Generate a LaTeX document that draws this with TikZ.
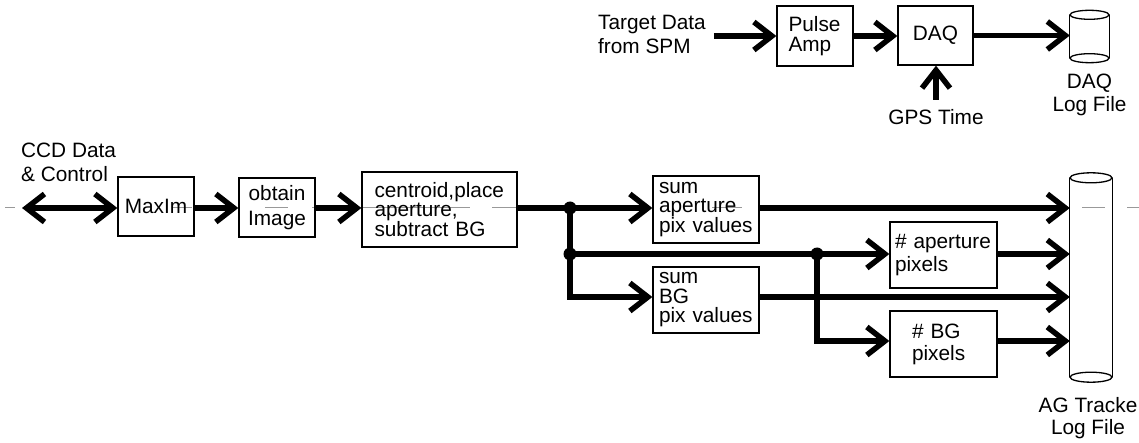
\documentclass[tikz,border=0pt]{standalone}
\usepackage{fontspec}
\setmainfont{Liberation Sans}
\usetikzlibrary{arrows.meta}

\newcommand{\fs}[1]{\fontsize{20.8}{#1}\selectfont}

\begin{document}
\begin{tikzpicture}[x=1pt,y=-1pt,
  every node/.style={font=\fs{24}},
  box/.style={draw,line width=1.3pt,inner sep=0pt,align=left},
  lbl/.style={inner sep=0pt},
  flow/.style={line width=5.5pt,-{Straight Barb[length=18pt,width=28pt]}},
  wire/.style={line width=5.5pt},
  axisline/.style={black!40,line width=1pt},
  drum/.style={line width=1.3pt},
  hub/.style={inner sep=0pt}
]
\useasboundingbox (0,0) rectangle (1139,443);

% thin grey centre line along the main signal row
\draw[axisline] (5,208) -- (15,208) (172,208) -- (192,208) (265,208) -- (288,208)
  (312,208) -- (470,208) (492,208) -- (520,208) (712,208) -- (742,208)
  (1082,208) -- (1105,208) (1127,208) -- (1139,208);

% row coordinates
\coordinate (ax) at (22,208);
\coordinate (j1) at (570,208);
\coordinate (j2) at (570,254);
\coordinate (j3) at (817,254);
\coordinate (r3) at (0,297);
\coordinate (r4) at (0,341);

% ---------- tracker chain ----------
\node[lbl,anchor=west,align=left,font=\fs{24}] (ccd) at (21,162.5) {CCD Data\\\& Control};
\node[box,minimum width=76pt,minimum height=59pt,align=center] (maxim) at (156,206.5) {MaxIm};
\node[box,minimum width=76pt,minimum height=59pt,align=center,font=\fs{25}] (obt) at (277,207.5) {obtain\\Image};
\node[box,minimum width=155pt,minimum height=75pt,text width=130pt,font=\fs{19.8}] (cen) at (439.5,209.5) {centroid,place\\aperture,\\subtract BG};
\node[box,minimum width=106pt,minimum height=67pt,text width=94pt,font=\fs{19}] (sa) at (706,209.5) {sum\\aperture\\pix values};
\node[box,minimum width=106pt,minimum height=66pt,text width=94pt,font=\fs{19.5}] (sbg) at (706,300) {sum\\BG\\pix values};
\node[box,minimum width=107pt,minimum height=66pt,text width=97pt,font=\fs{23}] (nap) at (943.5,255) {\# aperture\\pixels};
\node[box,minimum width=107pt,minimum height=66pt,text width=63pt,font=\fs{22}] (nbg) at (943.5,344) {\# BG\\pixels};

% AG tracker log file (cylinder)
\node[hub,minimum width=42pt,minimum height=199pt] (ag) at (1091,277.5) {};
\draw[drum] (ag.north) ellipse [x radius=21pt, y radius=5pt];
\draw[drum] (ag.south) ellipse [x radius=21pt, y radius=5pt];
\draw[drum] (ag.north west) -- (ag.south west) (ag.north east) -- (ag.south east);
\node[lbl,align=center,font=\fs{22}] (aglbl) at (1088,418.5) {AG Tracke\\Log File};

% connectors
\draw[line width=5.5pt,{Straight Barb[length=18pt,width=28pt]}-{Straight Barb[length=18pt,width=28pt]}] (ax) -- (ax -| maxim.west);
\draw[flow] (maxim.east |- ax) -- (ax -| obt.west);
\draw[flow] (obt.east |- ax) -- (ax -| cen.west);
\draw[wire] (cen.east |- j1) -- (j1);
\draw[flow] (j1) -- (j1 -| sa.west);
\draw[flow] (j1) |- (r3 -| sbg.west);
\draw[flow] (j2) -- (j2 -| nap.west);
\draw[flow] (j3) |- (r4 -| nbg.west);
\fill (j1) circle (6.5pt) (j2) circle (6.5pt) (j3) circle (6.5pt);

\draw[flow] (sa.east |- j1) -- (j1 -| ag.west);
\draw[flow] (nap.east |- j2) -- (j2 -| ag.west);
\draw[flow] (sbg.east |- r3) -- (r3 -| ag.west);
\draw[flow] (nbg.east |- r4) -- (r4 -| ag.west);

% ---------- target data chain ----------
\node[lbl,anchor=west,align=left,font=\fs{24}] (tgt) at (598,34.5) {Target Data\\from SPM};
\node[box,minimum width=76pt,minimum height=60pt,text width=53pt,font=\fs{20}] (pulse) at (815,36) {Pulse\\Amp};
\node[box,minimum width=75pt,minimum height=59pt,align=center] (daq) at (935.5,35.5) {DAQ};
\node[lbl] (gps) at (936,117.5) {GPS Time};

% DAQ log file (cylinder)
\node[hub,minimum width=39pt,minimum height=43pt] (dlog) at (1089.5,36.5) {};
\draw[drum] (dlog.north) ellipse [x radius=19.5pt, y radius=4.5pt];
\draw[drum] (dlog.south) ellipse [x radius=19.5pt, y radius=4.5pt];
\draw[drum] (dlog.north west) -- (dlog.south west) (dlog.north east) -- (dlog.south east);
\node[lbl,align=center,font=\fs{23}] (dlbl) at (1089.5,95) {DAQ\\Log File};

\draw[flow] ([xshift=8pt]tgt.east |- pulse) -- (pulse.west);
\draw[flow] (pulse.east) -- (pulse.east -| daq.west);
\draw[flow] (daq.east) -- (daq.east -| dlog.west);
\draw[flow] ([yshift=10pt]gps.north) -- (gps.north |- daq.south);
\end{tikzpicture}
\end{document}
